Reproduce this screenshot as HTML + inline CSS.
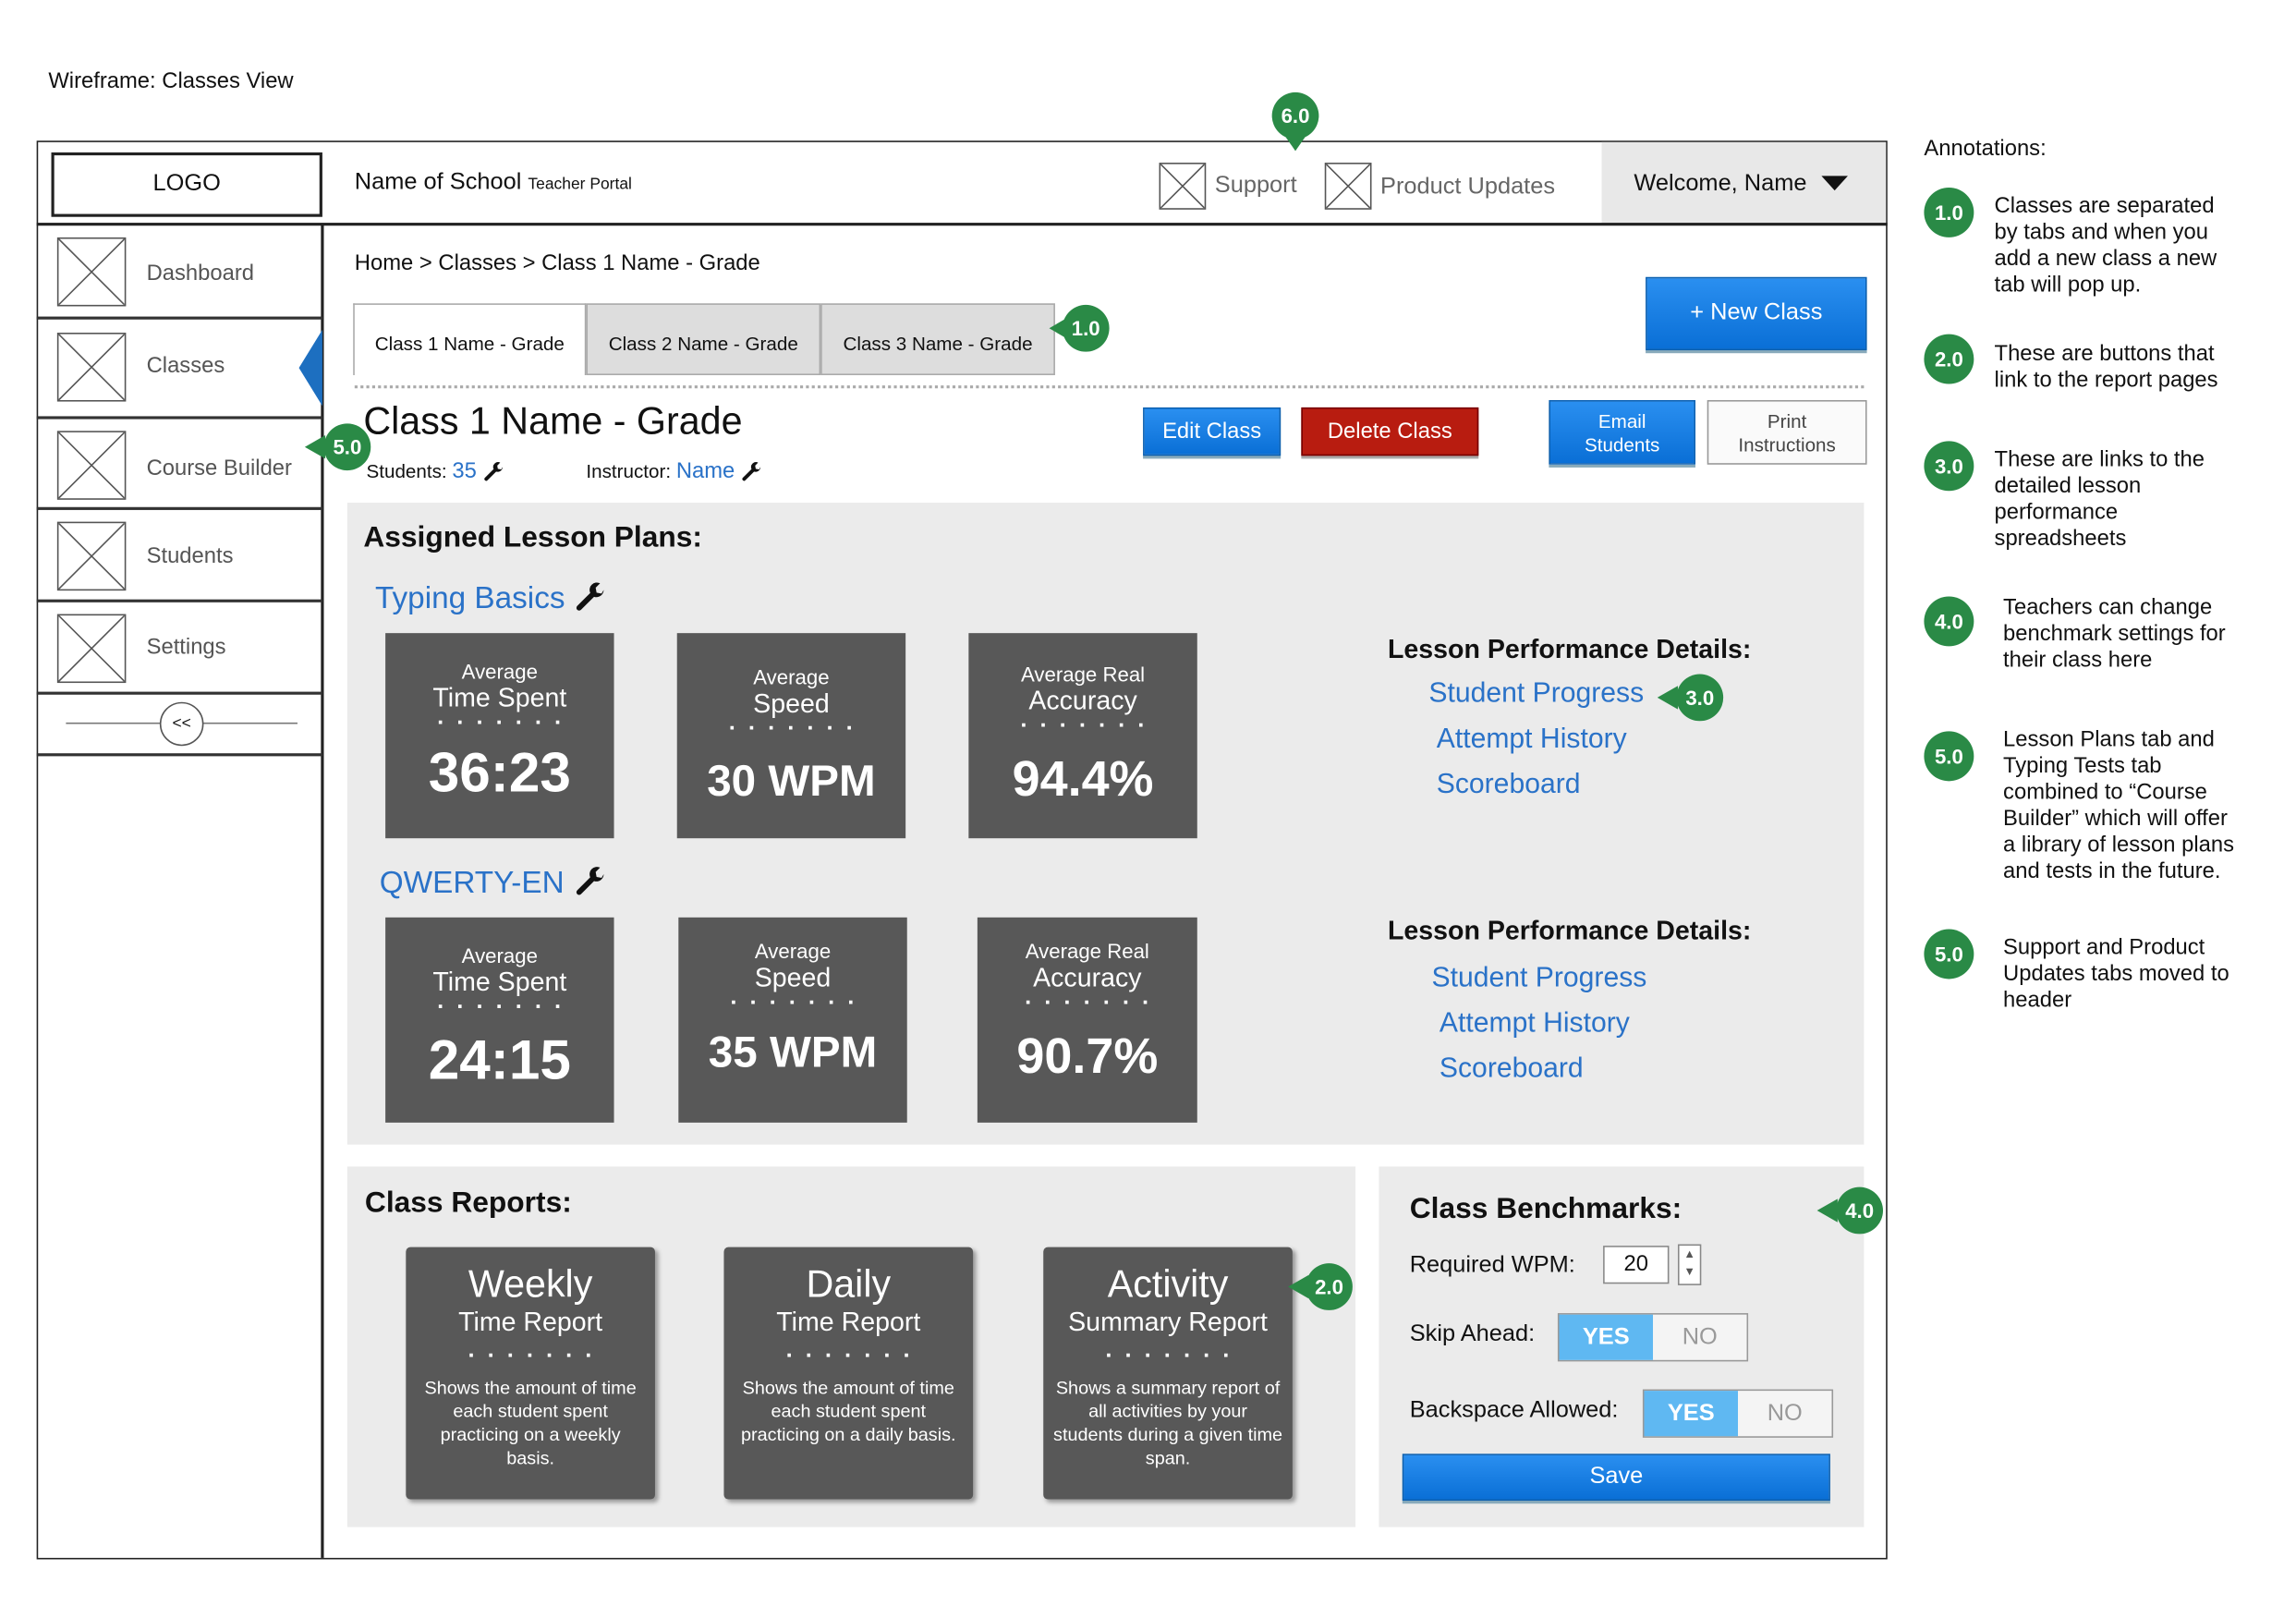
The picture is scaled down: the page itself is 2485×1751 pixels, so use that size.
<!DOCTYPE html>
<html><head><meta charset="utf-8"><style>
html,body{margin:0;padding:0;background:#fff;}
body{width:2485px;height:1750px;overflow:hidden;}
#root{position:absolute;left:0;top:0;width:1567px;height:1104px;transform:scale(1.586);transform-origin:0 0;font-family:"Liberation Sans",sans-serif;color:#111;}
.a{position:absolute;}
.ph{position:absolute;border:1px solid #555;background:#fff;}
.ph svg{width:100%;height:100%;display:block}
.btnb{position:absolute;background:linear-gradient(#2a8ff0,#0a6fd6);color:#fff;border:1px solid #0a5fb0;box-shadow:0 2px 0 #8ab;text-align:center;}
.tile{position:absolute;background:#585858;color:#fff;text-align:center;}
.dots{white-space:nowrap;font-weight:bold;font-size:16px;line-height:14px;letter-spacing:8px;margin-left:8px}
.mk{position:absolute;width:32px;height:32px;border-radius:50%;background:#2a8a46;color:#fff;font-weight:bold;font-size:14px;line-height:32px;text-align:center;}
.link{color:#2a72c8;}
.side{position:absolute;left:25px;width:195px;border-bottom:2px solid #333;}
.side span{position:absolute;left:75px;font-size:15px;color:#555;}
.ann{position:absolute;font-size:15px;line-height:18px;}
.wr{display:inline-block;vertical-align:middle}
.rt{font-size:12.5px;line-height:16px;margin-top:6px;padding:0 6px}
</style></head><body><div id="root">
<svg width="0" height="0" style="position:absolute"><defs><symbol id="wrench" viewBox="0 0 24 24"><path d="M21 5.5a5 5 0 0 1-6.6 4.7L5.5 19.1a1.8 1.8 0 0 1-2.6-2.6l8.9-8.9A5 5 0 0 1 18.5 1l-3 3 .6 3.4 3.4.6z" fill="#111"/></symbol></defs></svg>
<div class="a" style="left:33px;top:47px;font-size:15px">Wireframe: Classes View</div>
<div class="a" style="left:25px;top:96px;width:1261px;height:966px;border:1px solid #222"></div>
<div class="a" style="left:1093px;top:97px;width:194px;height:56px;background:#e8e8e8"></div>
<div class="a" style="left:25px;top:152px;width:1263px;height:2px;background:#222"></div>
<div class="a" style="left:35px;top:104px;width:181px;height:40px;border:2px solid #222;text-align:center;line-height:40px;font-size:16px">LOGO</div>
<div class="a" style="left:242px;top:116px;font-size:16px">Name of School <span style="font-size:11px">Teacher Portal</span></div>
<div class="ph" style="left:791px;top:111px;width:30px;height:30px"><svg viewBox="0 0 30 30"><path d="M0 0L30 30M30 0L0 30" stroke="#555"/></svg></div>
<div class="a" style="left:829px;top:118px;font-size:16px;color:#666">Support</div>
<div class="ph" style="left:904px;top:111px;width:30px;height:30px"><svg viewBox="0 0 30 30"><path d="M0 0L30 30M30 0L0 30" stroke="#555"/></svg></div>
<div class="a" style="left:942px;top:119px;font-size:16px;color:#666">Product Updates</div>
<div class="a" style="left:1115px;top:117px;font-size:16px">Welcome, Name <span style="display:inline-block;width:0;height:0;border-left:9px solid transparent;border-right:9px solid transparent;border-top:10px solid #111;margin-left:6px"></span></div>
<div class="mk" style="left:868px;top:63px">6.0</div>
<div class="a" style="left:877px;top:93px;border-left:7px solid transparent;border-right:7px solid transparent;border-top:10px solid #2a8a46"></div>
<div class="a" style="left:219px;top:153px;width:2px;height:910px;background:#222"></div>
<div class="side" style="top:153px;height:63px"><div class="ph" style="left:14px;top:9px;width:45px;height:45px"><svg viewBox="0 0 45 45"><path d="M0 0L45 45M45 0L0 45" stroke="#555"/></svg></div><span style="top:25px">Dashboard</span></div>
<div class="side" style="top:218px;height:66px"><div class="ph" style="left:14px;top:9px;width:45px;height:45px"><svg viewBox="0 0 45 45"><path d="M0 0L45 45M45 0L0 45" stroke="#555"/></svg></div><span style="top:23px">Classes</span></div>
<div class="a" style="left:204px;top:225px;border-top:26px solid transparent;border-bottom:26px solid transparent;border-right:16px solid #1d6fc0"></div>
<div class="side" style="top:286px;height:60px"><div class="ph" style="left:14px;top:8px;width:45px;height:45px"><svg viewBox="0 0 45 45"><path d="M0 0L45 45M45 0L0 45" stroke="#555"/></svg></div><span style="top:25px">Course Builder</span></div>
<div class="side" style="top:348px;height:61px"><div class="ph" style="left:14px;top:8px;width:45px;height:45px"><svg viewBox="0 0 45 45"><path d="M0 0L45 45M45 0L0 45" stroke="#555"/></svg></div><span style="top:23px">Students</span></div>
<div class="side" style="top:411px;height:61px"><div class="ph" style="left:14px;top:8px;width:45px;height:45px"><svg viewBox="0 0 45 45"><path d="M0 0L45 45M45 0L0 45" stroke="#555"/></svg></div><span style="top:22px">Settings</span></div>
<div class="side" style="top:474px;height:40px"><div class="a" style="left:20px;top:19px;width:158px;height:1px;background:#777"></div><div class="a" style="left:84px;top:5px;width:28px;height:28px;border:1px solid #555;border-radius:50%;background:#fff;text-align:center;line-height:28px;font-size:11px">&lt;&lt;</div></div>
<div class="mk" style="left:221px;top:289px">5.0</div>
<div class="a" style="left:208px;top:297px;border-top:8px solid transparent;border-bottom:8px solid transparent;border-right:14px solid #2a8a46"></div>
<div class="a" style="left:242px;top:171px;font-size:15px">Home &gt; Classes &gt; Class 1 Name - Grade</div>
<div class="a" style="left:241px;top:207px;width:157px;height:48px;border:1px solid #aaa;border-bottom:none;background:#fff;font-size:13px;text-align:center;line-height:54px">Class 1 Name - Grade</div>
<div class="a" style="left:400px;top:207px;width:158px;height:47px;border:1px solid #aaa;background:#ddd;font-size:13px;text-align:center;line-height:54px">Class 2 Name - Grade</div>
<div class="a" style="left:560px;top:207px;width:158px;height:47px;border:1px solid #aaa;background:#ddd;font-size:13px;text-align:center;line-height:54px">Class 3 Name - Grade</div>
<div class="mk" style="left:725px;top:208px">1.0</div>
<div class="a" style="left:716px;top:217px;border-top:7px solid transparent;border-bottom:7px solid transparent;border-right:12px solid #2a8a46"></div>
<div class="a" style="left:242px;top:263px;width:1030px;border-top:2px dotted #aaa"></div>
<div class="btnb" style="left:1123px;top:189px;width:149px;height:48px;line-height:48px;font-size:16px">+ New Class</div>
<div class="a" style="left:248px;top:272px;font-size:26px">Class 1 Name - Grade</div>
<div class="a" style="left:250px;top:313px;font-size:13px">Students: <span class="link" style="font-size:15px">35</span> <svg class="wr" width="16" height="16"><use href="#wrench"/></svg></div>
<div class="a" style="left:400px;top:313px;font-size:13px">Instructor: <span class="link" style="font-size:15px">Name</span> <svg class="wr" width="16" height="16"><use href="#wrench"/></svg></div>
<div class="btnb" style="left:780px;top:278px;width:92px;height:31px;line-height:31px;font-size:15px">Edit Class</div>
<div class="a" style="left:888px;top:278px;width:119px;height:31px;line-height:31px;font-size:15px;background:#b81c10;color:#fff;text-align:center;border:1px solid #700;box-shadow:0 2px 0 #aaa">Delete Class</div>
<div class="btnb" style="left:1057px;top:273px;width:98px;height:42px;font-size:13px;line-height:16px"><div style="padding-top:6px">Email<br>Students</div></div>
<div class="a" style="left:1165px;top:273px;width:107px;height:42px;font-size:13px;line-height:16px;background:#fafafa;border:1px solid #999;text-align:center;color:#444"><div style="padding-top:6px">Print<br>Instructions</div></div>
<div class="a" style="left:237px;top:343px;width:1035px;height:438px;background:#ebebeb"></div>
<div class="a" style="left:248px;top:356px;font-size:20px;font-weight:bold">Assigned Lesson Plans:</div>
<div class="a link" style="left:256px;top:397px;font-size:21px">Typing Basics <svg class="wr" width="24" height="24"><use href="#wrench"/></svg></div>
<div class="a link" style="left:259px;top:591px;font-size:21px">QWERTY-EN <svg class="wr" width="24" height="24"><use href="#wrench"/></svg></div>
<div class="tile" style="left:263px;top:432px;width:156px;height:140px"><div style="font-size:14px;margin-top:18px">Average</div><div style="font-size:18px">Time Spent</div><div class="dots">·······</div><div style="font-size:38px;font-weight:bold;margin-top:6px">36:23</div></div>
<div class="tile" style="left:462px;top:432px;width:156px;height:140px"><div style="font-size:14px;margin-top:22px">Average</div><div style="font-size:18px">Speed</div><div class="dots">·······</div><div style="font-size:30px;font-weight:bold;margin-top:12px">30 WPM</div></div>
<div class="tile" style="left:661px;top:432px;width:156px;height:140px"><div style="font-size:14px;margin-top:20px">Average Real</div><div style="font-size:18px">Accuracy</div><div class="dots">·······</div><div style="font-size:34px;font-weight:bold;margin-top:10px">94.4%</div></div>
<div class="tile" style="left:263px;top:626px;width:156px;height:140px"><div style="font-size:14px;margin-top:18px">Average</div><div style="font-size:18px">Time Spent</div><div class="dots">·······</div><div style="font-size:38px;font-weight:bold;margin-top:8px">24:15</div></div>
<div class="tile" style="left:463px;top:626px;width:156px;height:140px"><div style="font-size:14px;margin-top:15px">Average</div><div style="font-size:18px">Speed</div><div class="dots">·······</div><div style="font-size:30px;font-weight:bold;margin-top:10px">35 WPM</div></div>
<div class="tile" style="left:667px;top:626px;width:150px;height:140px"><div style="font-size:14px;margin-top:15px">Average Real</div><div style="font-size:18px">Accuracy</div><div class="dots">·······</div><div style="font-size:34px;font-weight:bold;margin-top:10px">90.7%</div></div>
<div class="a" style="left:947px;top:433px;font-size:18px;font-weight:bold">Lesson Performance Details:</div>
<div class="a link" style="left:975px;top:458px;font-size:19px;line-height:31px">Student Progress<br>&nbsp;Attempt History<br>&nbsp;Scoreboard</div>
<div class="mk" style="left:1144px;top:460px">3.0</div>
<div class="a" style="left:1131px;top:468px;border-top:8px solid transparent;border-bottom:8px solid transparent;border-right:14px solid #2a8a46"></div>
<div class="a" style="left:947px;top:625px;font-size:18px;font-weight:bold">Lesson Performance Details:</div>
<div class="a link" style="left:977px;top:652px;font-size:19px;line-height:31px">Student Progress<br>&nbsp;Attempt History<br>&nbsp;Scoreboard</div>
<div class="a" style="left:237px;top:796px;width:688px;height:246px;background:#ebebeb"></div>
<div class="a" style="left:249px;top:810px;font-size:20px;font-weight:bold">Class Reports:</div>
<div class="tile" style="left:277px;top:851px;width:170px;height:172px;border-radius:3px;box-shadow:2px 2px 3px #999"><div style="font-size:26px;margin-top:10px">Weekly</div><div style="font-size:18px">Time Report</div><div class="dots" style="margin-top:6px">·······</div><div class="rt">Shows the amount of time each student spent practicing on a weekly basis.</div></div>
<div class="tile" style="left:494px;top:851px;width:170px;height:172px;border-radius:3px;box-shadow:2px 2px 3px #999"><div style="font-size:26px;margin-top:10px">Daily</div><div style="font-size:18px">Time Report</div><div class="dots" style="margin-top:6px">·······</div><div class="rt">Shows the amount of time each student spent practicing on a daily basis.</div></div>
<div class="tile" style="left:712px;top:851px;width:170px;height:172px;border-radius:3px;box-shadow:2px 2px 3px #999"><div style="font-size:26px;margin-top:10px">Activity</div><div style="font-size:18px">Summary Report</div><div class="dots" style="margin-top:6px">·······</div><div class="rt">Shows a summary report of all activities by your students during a given time span.</div></div>
<div class="mk" style="left:891px;top:862px">2.0</div>
<div class="a" style="left:879px;top:870px;border-top:8px solid transparent;border-bottom:8px solid transparent;border-right:14px solid #2a8a46"></div>
<div class="a" style="left:941px;top:796px;width:331px;height:246px;background:#ebebeb"></div>
<div class="a" style="left:962px;top:814px;font-size:20px;font-weight:bold">Class Benchmarks:</div>
<div class="mk" style="left:1253px;top:810px">4.0</div>
<div class="a" style="left:1240px;top:818px;border-top:8px solid transparent;border-bottom:8px solid transparent;border-right:14px solid #2a8a46"></div>
<div class="a" style="left:962px;top:855px;font-size:16px">Required WPM:</div>
<div class="a" style="left:1094px;top:850px;width:43px;height:24px;border:1px solid #888;background:#fff;font-size:15px;line-height:24px;text-align:center">20</div>
<div class="a" style="left:1145px;top:849px;width:14px;height:26px;border:1px solid #888;background:#fff;font-size:8px;line-height:12px;text-align:center;color:#555">▲<br>▼</div>
<div class="a" style="left:962px;top:902px;font-size:16px">Skip Ahead:</div>
<div class="a" style="left:1063px;top:896px;width:128px;height:31px;border:1px solid #999;background:#f4f4f4"><div style="position:absolute;left:0;top:0;width:64px;height:31px;background:#5fb8f2;color:#fff;font-weight:bold;font-size:16px;line-height:31px;text-align:center">YES</div><div style="position:absolute;left:64px;top:0;width:64px;line-height:31px;text-align:center;color:#999;font-size:16px">NO</div></div>
<div class="a" style="left:962px;top:954px;font-size:16px">Backspace Allowed:</div>
<div class="a" style="left:1121px;top:948px;width:128px;height:31px;border:1px solid #999;background:#f4f4f4"><div style="position:absolute;left:0;top:0;width:64px;height:31px;background:#5fb8f2;color:#fff;font-weight:bold;font-size:16px;line-height:31px;text-align:center">YES</div><div style="position:absolute;left:64px;top:0;width:64px;line-height:31px;text-align:center;color:#999;font-size:16px">NO</div></div>
<div class="btnb" style="left:957px;top:992px;width:290px;height:30px;line-height:30px;font-size:16px">Save</div>
<div class="a" style="left:1313px;top:93px;font-size:15px">Annotations:</div>
<div class="mk" style="left:1313px;top:128px;width:34px;height:34px;line-height:34px">1.0</div><div class="ann" style="left:1361px;top:132px">Classes are separated<br>by tabs and when you<br>add a new class a new<br>tab will pop up.</div>
<div class="mk" style="left:1313px;top:228px;width:34px;height:34px;line-height:34px">2.0</div><div class="ann" style="left:1361px;top:233px">These are buttons that<br>link to the report pages</div>
<div class="mk" style="left:1313px;top:301px;width:34px;height:34px;line-height:34px">3.0</div><div class="ann" style="left:1361px;top:305px">These are links to the<br>detailed lesson<br>performance<br>spreadsheets</div>
<div class="mk" style="left:1313px;top:407px;width:34px;height:34px;line-height:34px">4.0</div><div class="ann" style="left:1367px;top:406px">Teachers can change<br>benchmark settings for<br>their class here</div>
<div class="mk" style="left:1313px;top:499px;width:34px;height:34px;line-height:34px">5.0</div><div class="ann" style="left:1367px;top:496px">Lesson Plans tab and<br>Typing Tests tab<br>combined to “Course<br>Builder” which will offer<br>a library of lesson plans<br>and tests in the future.</div>
<div class="mk" style="left:1313px;top:634px;width:34px;height:34px;line-height:34px">5.0</div><div class="ann" style="left:1367px;top:638px">Support and Product<br>Updates tabs moved to<br>header</div>
</div></body></html>
